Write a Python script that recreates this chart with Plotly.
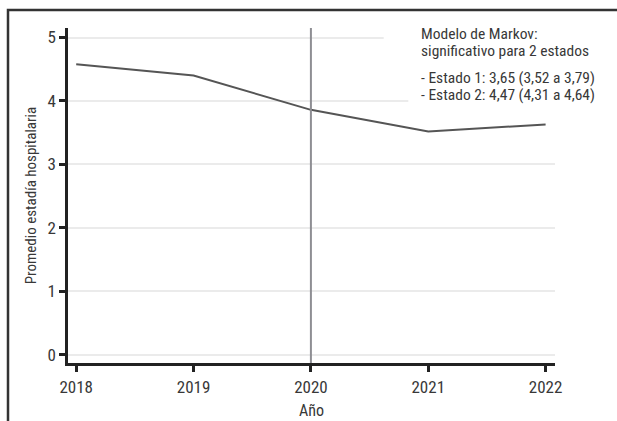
import plotly.graph_objects as go

years = [2018, 2019, 2020, 2021, 2022]
estadia = [4.58, 4.40, 3.86, 3.52, 3.63]
corte = 2020
y_ticks = [0, 1, 2, 3, 4, 5]
nota_titulo = ["Modelo de Markov:", "significativo para 2 estados"]
nota_estados = ["- Estado 1: 3,65 (3,52 a 3,79)", "- Estado 2: 4,47 (4,31 a 4,64)"]

FONT = "Liberation Sans Narrow, Roboto Condensed, Arial Narrow, sans-serif"
TXT = "#383838"

fig = go.Figure()
fig.add_trace(go.Scatter(x=years, y=estadia, mode="lines",
                         line=dict(color="#555555", width=2), showlegend=False,
                         hoverinfo="skip"))
fig.add_vline(x=corte, line=dict(color="#8e8e93", width=2))

# white patches hiding the gridlines behind the note
fig.add_shape(type="rect", xref="x", yref="y", x0=2020.62, x1=2022.2, y0=4.85, y1=5.2,
              fillcolor="white", line=dict(width=0), layer="between")
fig.add_shape(type="rect", xref="x", yref="y", x0=2020.83, x1=2022.2, y0=3.9, y1=4.1,
              fillcolor="white", line=dict(width=0), layer="between")

# outer frame (cropped on right and bottom)
fig.add_shape(type="rect", xref="paper", yref="paper", x0=-0.1232, y0=1.0537, x1=1.3, y1=-0.3,
              line=dict(color="#333333", width=2.5), fillcolor="rgba(0,0,0,0)", layer="above")

x_ann = 0.7208
line_ys = [(363 - 34) / 335, (363 - 51) / 335, (363 - 77.5) / 335, (363 - 94.5) / 335]
for txt, yy in zip(nota_titulo + nota_estados, line_ys):
    fig.add_annotation(text=txt, xref="paper", yref="paper", x=x_ann, y=yy,
                       xanchor="left", yanchor="middle", showarrow=False,
                       font=dict(family=FONT, size=15.5, color=TXT))

fig.update_layout(
    width=617, height=421,
    margin=dict(l=68, r=62, t=28, b=58),
    paper_bgcolor="white", plot_bgcolor="white",
    font=dict(family=FONT, color=TXT),
    xaxis=dict(range=[2017.93, 2022.08], tickvals=years, ticktext=[str(y) for y in years],
               showline=True, linecolor="#222222", linewidth=2.5,
               ticks="outside", ticklen=6, tickwidth=2.5, tickcolor="#222222",
               showgrid=False, zeroline=False, ticklabelstandoff=1, automargin=False,
               tickfont=dict(family=FONT, size=17, color=TXT),
               title=dict(text="Año", font=dict(family=FONT, size=16, color=TXT), standoff=9)),
    yaxis=dict(range=[-0.13, 5.15], tickvals=y_ticks,
               showline=True, linecolor="#222222", linewidth=2.5,
               ticks="outside", ticklen=6, tickwidth=2.5, tickcolor="#222222",
               showgrid=True, gridcolor="#ebebeb", gridwidth=1.5, zeroline=False,
               automargin=False,
               tickfont=dict(family=FONT, size=17, color=TXT),
               title=dict(text="Promedio estadía hospitalaria",
                          font=dict(family=FONT, size=15, color=TXT), standoff=8)),
)

fig.write_html("out.html")
